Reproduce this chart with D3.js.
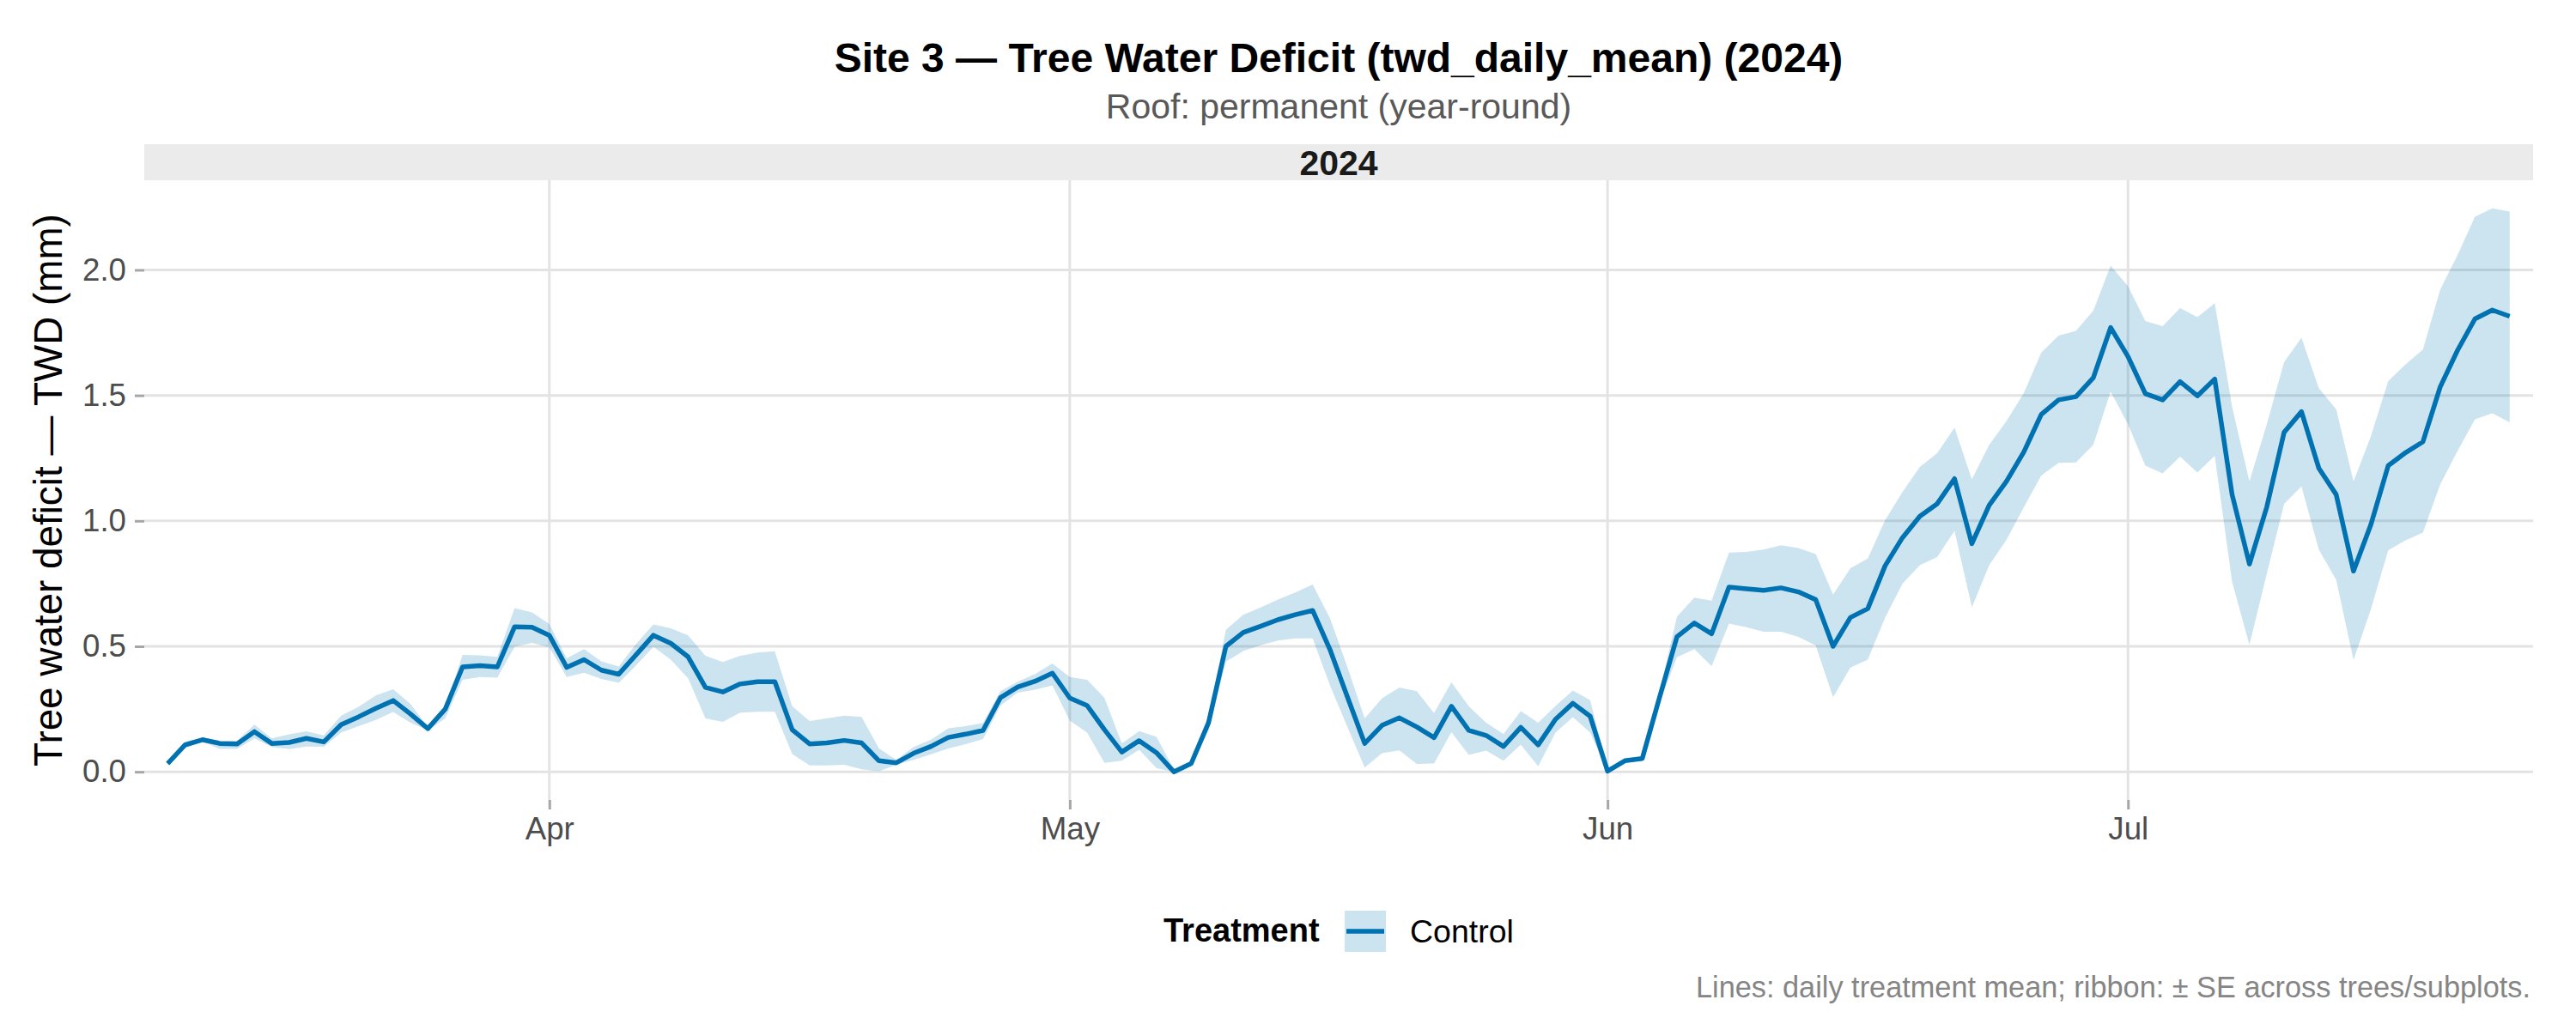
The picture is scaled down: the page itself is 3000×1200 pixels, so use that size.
<!DOCTYPE html>
<html>
<head>
<meta charset="utf-8">
<script src="https://cdn.jsdelivr.net/npm/d3@7"></script>
<style>
  body { margin: 0; background: #fff; }
  svg { display: block; font-family: "Liberation Sans", Arial, Helvetica, sans-serif; }
</style>
</head>
<body>
<svg id="chart"></svg>
<script>
// daily series, 2024-03-10 .. 2024-07-23
const startDay = '2024-03-10';
const endDay = '2024-07-23';

const twdMean = [
  0.033, 0.107, 0.128, 0.113, 0.111, 0.160, 0.113, 0.117, 0.133, 0.119, 0.188, 0.219, 0.253, 0.284, 0.230, 0.172, 0.250, 0.418, 0.423, 0.418, 0.578, 0.576,
  0.544, 0.416, 0.447, 0.405, 0.389, 0.466, 0.544, 0.512, 0.458, 0.336, 0.318, 0.350, 0.359, 0.359, 0.168, 0.111, 0.115, 0.125, 0.115, 0.044, 0.036, 0.074, 0.101, 0.137, 0.150, 0.165, 0.295, 0.338, 0.361, 0.393,
  0.294, 0.264, 0.168, 0.079, 0.124, 0.076, 0.000, 0.033, 0.196, 0.500, 0.555, 0.580, 0.606, 0.626, 0.643, 0.487, 0.299, 0.113, 0.185, 0.215, 0.179, 0.136, 0.261, 0.165, 0.145, 0.101, 0.177, 0.107, 0.209, 0.273, 0.221,
  0.003, 0.044, 0.053, 0.297, 0.538, 0.593, 0.550, 0.736, 0.729, 0.723, 0.733, 0.717, 0.686, 0.500, 0.615, 0.650, 0.821, 0.933, 1.018, 1.068, 1.168, 0.909, 1.062, 1.158, 1.275, 1.424, 1.482, 1.495, 1.570, 1.770,
  1.655, 1.507, 1.482, 1.555, 1.498, 1.565, 1.105, 0.828, 1.055, 1.353, 1.435, 1.210, 1.105, 0.800, 0.985, 1.220, 1.272, 1.315, 1.534, 1.680, 1.805, 1.840, 1.815
];

const seUpper = [
  0.040, 0.120, 0.135, 0.124, 0.124, 0.188, 0.133, 0.149, 0.161, 0.145, 0.224, 0.259, 0.304, 0.329, 0.270, 0.178, 0.259, 0.466, 0.464, 0.458, 0.652, 0.635,
  0.589, 0.452, 0.489, 0.440, 0.420, 0.509, 0.587, 0.572, 0.544, 0.462, 0.438, 0.462, 0.475, 0.480, 0.261, 0.202, 0.213, 0.224, 0.219, 0.093, 0.048, 0.099, 0.128, 0.173, 0.182, 0.195, 0.321, 0.359, 0.390, 0.432,
  0.378, 0.367, 0.295, 0.113, 0.162, 0.139, 0.010, 0.040, 0.215, 0.566, 0.626, 0.655, 0.686, 0.715, 0.746, 0.612, 0.418, 0.213, 0.293, 0.336, 0.321, 0.234, 0.356, 0.261, 0.196, 0.150, 0.242, 0.196, 0.262, 0.324, 0.285,
  0.008, 0.050, 0.058, 0.320, 0.618, 0.694, 0.682, 0.874, 0.876, 0.886, 0.903, 0.892, 0.868, 0.706, 0.811, 0.850, 1.003, 1.115, 1.215, 1.270, 1.371, 1.165, 1.303, 1.398, 1.510, 1.671, 1.738, 1.757, 1.837, 2.017,
  1.935, 1.796, 1.776, 1.848, 1.812, 1.867, 1.455, 1.157, 1.385, 1.633, 1.730, 1.529, 1.445, 1.157, 1.337, 1.557, 1.624, 1.683, 1.922, 2.060, 2.212, 2.245, 2.232
];

const seLower = [
  0.026, 0.094, 0.120, 0.091, 0.091, 0.133, 0.099, 0.090, 0.101, 0.100, 0.156, 0.182, 0.207, 0.238, 0.196, 0.165, 0.213, 0.367, 0.378, 0.375, 0.498, 0.514,
  0.496, 0.378, 0.395, 0.370, 0.355, 0.424, 0.498, 0.447, 0.373, 0.213, 0.199, 0.236, 0.239, 0.239, 0.071, 0.025, 0.025, 0.028, 0.010, 0.002, 0.028, 0.048, 0.070, 0.093, 0.110, 0.131, 0.264, 0.315, 0.327, 0.344,
  0.204, 0.156, 0.036, 0.044, 0.088, 0.014, 0.000, 0.026, 0.165, 0.439, 0.481, 0.504, 0.523, 0.532, 0.532, 0.344, 0.179, 0.017, 0.074, 0.085, 0.031, 0.033, 0.158, 0.067, 0.084, 0.044, 0.108, 0.022, 0.156, 0.218, 0.156,
  0.000, 0.038, 0.048, 0.275, 0.456, 0.489, 0.421, 0.591, 0.576, 0.558, 0.558, 0.538, 0.503, 0.297, 0.415, 0.447, 0.615, 0.750, 0.823, 0.856, 0.960, 0.656, 0.823, 0.925, 1.055, 1.181, 1.231, 1.233, 1.303, 1.515,
  1.385, 1.220, 1.189, 1.256, 1.193, 1.259, 0.757, 0.506, 0.789, 1.068, 1.137, 0.886, 0.765, 0.446, 0.647, 0.883, 0.922, 0.953, 1.146, 1.279, 1.405, 1.429, 1.393
];

const yTicks = [0, 0.5, 1.0, 1.5, 2.0];
const treatments = ['Control'];

const width = 3000, height = 1200;
const panel = { left: 168, right: 2950, top: 210, bottom: 932 };
const blue = '#0072B2';

const parse = d3.utcParse('%Y-%m-%d');
const days = d3.utcDay.range(parse(startDay), d3.utcDay.offset(parse(endDay), 1));
const rows = days.map((d, i) => ({ date: d, mean: twdMean[i], lo: seLower[i], hi: seUpper[i] }));

const svg = d3.select('#chart').attr('width', width).attr('height', height);
svg.append('rect').attr('width', width).attr('height', height).attr('fill', '#fff');

// scales (ggplot-ish expansion: 1% on x, 5% on y)
const xExt = d3.extent(days);
const xPad = (xExt[1] - xExt[0]) * 0.01;
const x = d3.scaleUtc()
  .domain([new Date(+xExt[0] - xPad), new Date(+xExt[1] + xPad)])
  .range([panel.left, panel.right]);

const yLo = d3.min([d3.min(seLower), d3.min(twdMean)]);
const yHi = d3.max([d3.max(seUpper), d3.max(twdMean)]);
const yPad = (yHi - yLo) * 0.05;
const y = d3.scaleLinear()
  .domain([yLo - yPad, yHi + yPad])
  .range([panel.bottom, panel.top]);

const monthTicks = d3.utcMonth.range(xExt[0], xExt[1]).filter(d => d >= xExt[0]);

// titles
svg.append('text')
  .attr('x', (panel.left + panel.right) / 2).attr('y', 84)
  .attr('text-anchor', 'middle')
  .style('font-size', '48px').style('font-weight', 'bold').attr('fill', '#000')
  .text('Site 3 \u2014 Tree Water Deficit (twd_daily_mean) (2024)');

svg.append('text')
  .attr('x', (panel.left + panel.right) / 2).attr('y', 138)
  .attr('text-anchor', 'middle')
  .style('font-size', '41px').attr('fill', '#595959')
  .text('Roof: permanent (year-round)');

// facet strip
svg.append('rect')
  .attr('x', panel.left).attr('y', 168)
  .attr('width', panel.right - panel.left).attr('height', panel.top - 168)
  .attr('fill', '#EBEBEB');
svg.append('text')
  .attr('x', (panel.left + panel.right) / 2).attr('y', 204)
  .attr('text-anchor', 'middle')
  .style('font-size', '41px').style('font-weight', 'bold').attr('fill', '#1A1A1A')
  .text('2024');

// grid
const grid = svg.append('g');
grid.selectAll('.gy').data(yTicks).enter().append('line')
  .attr('x1', panel.left).attr('x2', panel.right)
  .attr('y1', d => y(d)).attr('y2', d => y(d))
  .attr('stroke', '#E3E3E3').attr('stroke-width', 3);
grid.selectAll('.gx').data(monthTicks).enter().append('line')
  .attr('x1', d => x(d)).attr('x2', d => x(d))
  .attr('y1', panel.top).attr('y2', panel.bottom)
  .attr('stroke', '#E3E3E3').attr('stroke-width', 3);

// ribbon + line
const area = d3.area()
  .x(d => x(d.date))
  .y0(d => y(d.lo))
  .y1(d => y(d.hi));
svg.append('path').datum(rows)
  .attr('d', area)
  .attr('fill', blue).attr('fill-opacity', 0.2);

const line = d3.line()
  .x(d => x(d.date))
  .y(d => y(d.mean));
svg.append('path').datum(rows)
  .attr('d', line)
  .attr('fill', 'none')
  .attr('stroke', blue).attr('stroke-width', 5.5)
  .attr('stroke-linejoin', 'round').attr('stroke-linecap', 'butt');

// axes
const xAxis = svg.append('g')
  .attr('transform', `translate(0,${panel.bottom})`)
  .call(d3.axisBottom(x).tickValues(monthTicks).tickFormat(d3.utcFormat('%b')).tickSize(11).tickPadding(9));
const yAxis = svg.append('g')
  .attr('transform', `translate(${panel.left},0)`)
  .call(d3.axisLeft(y).tickValues(yTicks).tickFormat(d3.format('.1f')).tickSize(11).tickPadding(10));

[xAxis, yAxis].forEach(g => {
  g.select('.domain').remove();
  g.selectAll('.tick line').attr('stroke', '#A6A6A6').attr('stroke-width', 3);
  g.selectAll('.tick text')
    .attr('fill', '#4D4D4D')
    .style('font-size', '36.7px')
    .style('font-family', '"Liberation Sans", Arial, Helvetica, sans-serif');
});

svg.append('text')
  .attr('transform', `translate(72,${(panel.top + panel.bottom) / 2}) rotate(-90)`)
  .attr('text-anchor', 'middle')
  .style('font-size', '45.8px').attr('fill', '#000')
  .text('Tree water deficit \u2014 TWD (mm)');

// legend
const legend = svg.append('g');
legend.append('text')
  .attr('x', 1355).attr('y', 1097)
  .style('font-size', '38px').style('font-weight', 'bold').attr('fill', '#000')
  .text('Treatment');
treatments.forEach((t, i) => {
  const kx = 1566;
  legend.append('rect')
    .attr('x', kx).attr('y', 1061).attr('width', 48).attr('height', 48)
    .attr('fill', blue).attr('fill-opacity', 0.2);
  legend.append('line')
    .attr('x1', kx + 2).attr('x2', kx + 46)
    .attr('y1', 1085).attr('y2', 1085)
    .attr('stroke', blue).attr('stroke-width', 5.5);
  legend.append('text')
    .attr('x', kx + 76).attr('y', 1098)
    .style('font-size', '37.5px').attr('fill', '#000')
    .text(t);
});

// caption
svg.append('text')
  .attr('x', 2947).attr('y', 1162)
  .attr('text-anchor', 'end')
  .style('font-size', '34.3px').attr('fill', '#858585')
  .text('Lines: daily treatment mean; ribbon: \u00b1 SE across trees/subplots.');
</script>
</body>
</html>
